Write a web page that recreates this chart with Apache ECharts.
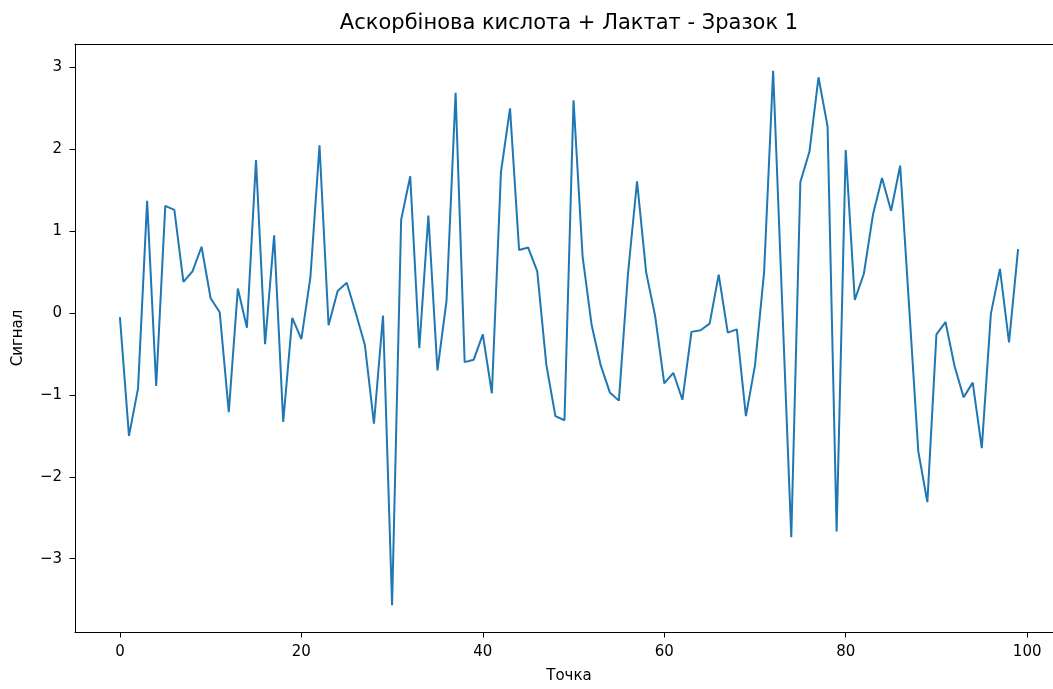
<!DOCTYPE html>
<html>
<head>
<meta charset="utf-8">
<script src="https://cdn.jsdelivr.net/npm/echarts@6/dist/echarts.min.js"></script>
<style>
  html, body { margin: 0; padding: 0; background: #fff; overflow: hidden; }
  /* полотно трохи ширше за вікно: права рамка осей обрізана, як в оригіналі */
  #chart { width: 1064px; height: 689px; }
</style>
</head>
<body>
<div id="chart"></div>
<script>
// значення сигналу, точки 0..99
var signal = [
  -0.05, -1.50, -0.92, 1.37, -0.89, 1.31, 1.26, 0.38, 0.51, 0.81,
  0.18, 0.01, -1.21, 0.30, -0.18, 1.87, -0.38, 0.95, -1.33, -0.06,
  -0.32, 0.44, 2.05, -0.15, 0.27, 0.37, 0.00, -0.39, -1.35, -0.03,
  -3.57, 1.14, 1.67, -0.43, 1.19, -0.70, 0.15, 2.69, -0.60, -0.57,
  -0.26, -0.98, 1.72, 2.50, 0.77, 0.80, 0.51, -0.63, -1.26, -1.31,
  2.60, 0.69, -0.15, -0.64, -0.97, -1.07, 0.48, 1.61, 0.50, -0.04,
  -0.86, -0.73, -1.06, -0.23, -0.21, -0.13, 0.47, -0.24, -0.20, -1.26,
  -0.64, 0.49, 2.96, 0.11, -2.74, 1.60, 1.97, 2.88, 2.28, -2.67,
  1.99, 0.16, 0.48, 1.20, 1.65, 1.25, 1.80, 0.06, -1.69, -2.31,
  -0.26, -0.11, -0.65, -1.03, -0.85, -1.65, -0.01, 0.54, -0.36, 0.78
];
var xTicks = [0, 20, 40, 60, 80, 100];
var yTicks = [-3, -2, -1, 0, 1, 2, 3];

var points = signal.map(function (v, i) { return [i, v]; });

// межі осей як у matplotlib (поля 5%)
var n = signal.length - 1;
var yLo = Math.min.apply(null, signal), yHi = Math.max.apply(null, signal);
var yPad = (yHi - yLo) * 0.05;

var font = 'DejaVu Sans';
var spine = { show: true, onZero: false, lineStyle: { color: '#000', width: 1 } };
var chart = echarts.init(document.getElementById('chart'));
var option = {
  animation: false,
  backgroundColor: '#fff',
  title: {
    text: 'Аскорбінова кислота + Лактат - Зразок 1',
    left: 569,
    top: 13,
    padding: 0,
    textAlign: 'center',
    textStyle: { fontFamily: font, fontSize: 21, fontWeight: 'normal', color: '#000' }
  },
  grid: {
    left: 75,
    top: 44,
    right: 1,
    bottom: 55
  },
  xAxis: [{
    type: 'value',
    min: -0.05 * n,
    max: n * 1.05,
    name: 'Точка',
    nameLocation: 'middle',
    nameGap: 37,
    nameTextStyle: { fontFamily: font, fontSize: 15, color: '#000' },
    axisLine: spine,
    splitLine: { show: false },
    axisTick: { show: true, length: 5.5, lineStyle: { color: '#000', width: 1 }, customValues: xTicks },
    axisLabel: { margin: 13, fontFamily: font, fontSize: 15, color: '#000', customValues: xTicks }
  }, {
    // верхня рамка
    type: 'value',
    position: 'top',
    min: -0.05 * n,
    max: n * 1.05,
    axisLine: spine,
    axisTick: { show: false },
    axisLabel: { show: false },
    splitLine: { show: false }
  }],
  yAxis: {
    type: 'value',
    min: yLo - yPad,
    max: yHi + yPad,
    name: 'Сигнал',
    nameLocation: 'middle',
    nameGap: 49,
    nameTextStyle: { fontFamily: font, fontSize: 15, color: '#000' },
    axisLine: spine,
    splitLine: { show: false },
    axisTick: { show: true, length: 5.5, lineStyle: { color: '#000', width: 1 }, customValues: yTicks },
    axisLabel: {
      margin: 13, fontFamily: font, fontSize: 15, color: '#000', customValues: yTicks,
      formatter: function (v) { return String(v).replace('-', '\u2212'); }
    }
  },
  series: [{
    type: 'line',
    data: points,
    showSymbol: false,
    lineStyle: { color: '#1f77b4', width: 2 }
  }]
};
chart.setOption(option);
</script>
</body>
</html>
